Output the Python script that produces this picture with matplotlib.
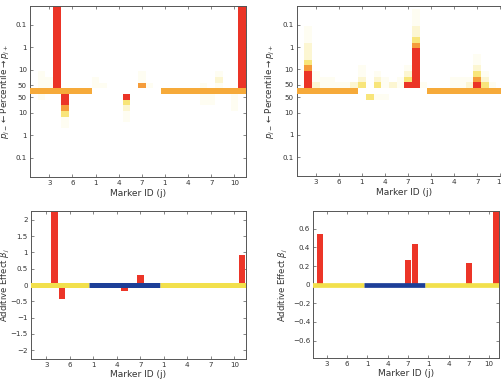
import matplotlib
matplotlib.use("Agg")
import matplotlib.pyplot as plt
import numpy as np

# ---------------- data ----------------
n_markers = 28
group_sizes = [8, 9, 11]
xtick_pos = [3, 6, 9, 12, 15, 18, 21, 24, 27]
xtick_labels = ['3', '6', '1', '4', '7', '1', '4', '7', '10']

# percentile heat-map columns: intensity levels per bin, going outward from centre
# (0 none, 1 very faint, 2 pale, 3 yellow, 4 orange, 5 red)
tl_upper = {2: [1, 1, 1], 3: [1, 1], 4: [5] * 15, 9: [1, 1], 10: [1],
            15: [4, 1, 1], 16: [1], 23: [1], 25: [1, 2, 1], 28: [5] * 15}
tl_lower = {2: [1], 5: [5, 5, 4, 3, 1, 1], 13: [5, 3, 2, 1, 1],
            23: [1, 1], 24: [1, 1], 27: [1, 1, 1]}
tr_upper = {2: [5, 5, 5, 4, 3, 2, 2, 2, 1, 1, 1], 3: [2, 1, 1], 4: [1, 1], 5: [1, 1],
            6: [1], 7: [1], 8: [2], 9: [3, 2, 1, 1], 11: [3, 2, 1], 12: [1, 1],
            13: [2], 14: [1, 1], 15: [5, 3, 2, 1],
            16: [5, 5, 5, 5, 5, 5, 5, 4, 3, 2, 2, 1, 1, 1], 17: [1],
            21: [1, 1], 22: [1, 1], 23: [2, 1], 24: [5, 4, 3, 2, 1, 1], 25: [3, 2, 1], 26: [1]}
tr_lower = {10: [3], 11: [1], 12: [1]}

# additive effects
bl_markers = [4, 5, 13, 15, 28]
bl_effects = [2.5, -0.44, -0.19, 0.31, 0.92]
br_markers = [2, 15, 16, 24, 28]
br_effects = [0.54, 0.26, 0.44, 0.23, 0.85]

pct_ticks = [0.1, 1, 10, 50]

# ---------------- style ----------------
level_colors = {1: '#fefdf2', 2: '#fcf6d2', 3: '#f8e57a', 4: '#f59c3a', 5: '#eb3426'}
red = '#ec3528'
band_orange = '#f6aa3a'
band_yellow = '#f2e04c'
band_blue = '#1d3f98'
spine_c = '#555555'
txt_c = '#333333'

W, H = 502, 379
fig = plt.figure(figsize=(W / 100, H / 100), dpi=100)

def ax_px(l, t, r, b):
    return fig.add_axes([l / W, 1 - b / H, (r - l) / W, (b - t) / H])

ax_tl = ax_px(30, 5.7, 246, 176.7)
ax_tr = ax_px(296.7, 5.7, 511.8, 176.3)
ax_bl = ax_px(30.7, 210.7, 246, 359.3)
ax_br = ax_px(313.3, 211, 499.3, 358.3)

BIN = 0.254
OFF = 0.27
YL = 3.82

def style(ax, xlabelpad):
    for s in ax.spines.values():
        s.set_color(spine_c)
        s.set_linewidth(0.7)
    ax.tick_params(direction='in', top=True, right=True, length=2.5, width=0.5,
                   colors=spine_c, labelcolor=txt_c, labelsize=5.1, pad=2.2)
    ax.set_xticks(xtick_pos)
    ax.set_xticklabels(xtick_labels)
    ax.set_xlabel('Marker ID (j)', fontsize=6.5, color=txt_c, labelpad=xlabelpad)

bounds = np.cumsum([0] + group_sizes) + 0.5

def top_panel(ax, upper, lower, band_groups, label_x):
    for m, levels in upper.items():
        for k, lev in enumerate(levels):
            ax.bar(m, BIN, bottom=BIN / 2 + k * BIN, width=1.0,
                   color=level_colors[lev], linewidth=0, zorder=2 + lev * 0.1)
    for m, levels in lower.items():
        for k, lev in enumerate(levels):
            ax.bar(m, BIN, bottom=-BIN / 2 - (k + 1) * BIN, width=1.0,
                   color=level_colors[lev], linewidth=0, zorder=2 + lev * 0.1)
    for g in band_groups:
        a, b = bounds[g], bounds[g + 1]
        ax.bar((a + b) / 2, BIN, bottom=-BIN / 2, width=b - a,
               color=band_orange, linewidth=0, zorder=3)
    ax.set_xlim(0.5, n_markers + 0.5)
    ax.set_ylim(-YL, YL)
    ypos = [OFF + np.log10(50 / p) for p in pct_ticks]
    yt = ypos + [-v for v in ypos]
    yl = [('%g' % p) for p in pct_ticks] * 2
    ax.set_yticks(yt)
    ax.set_yticklabels(yl)
    style(ax, 2)
    ax.set_ylabel(r'$p_{j-}$$\leftarrow$Percentile$\rightarrow$$p_{j+}$',
                  fontsize=6.3, color=txt_c)
    ax.yaxis.set_label_coords(label_x, 0.5)

top_panel(ax_tl, tl_upper, tl_lower, [0, 2], -0.083)
top_panel(ax_tr, tr_upper, tr_lower, [0, 2], -0.092)

def bottom_panel(ax, markers, effects, ylim, yticks, band_lw, label_x):
    ax.bar(markers, effects, width=0.85, color=red, linewidth=0, zorder=2)
    cols = [band_yellow, band_blue, band_yellow]
    for g in range(3):
        ax.hlines(0, bounds[g], bounds[g + 1], colors=cols[g], linewidth=band_lw, zorder=3)
    ax.set_xlim(1.0, n_markers + 0.5)
    ax.set_ylim(-ylim, ylim)
    ax.set_yticks(yticks)
    ax.set_yticklabels([('%g' % v).replace('-', '\u2212') for v in yticks])
    style(ax, 1)
    ax.set_ylabel(r'Additive Effect $\beta_j$', fontsize=6.1, color=txt_c)
    ax.yaxis.set_label_coords(label_x, 0.5)

bottom_panel(ax_bl, bl_markers, bl_effects, 2.28,
             [-2, -1.5, -1, -0.5, 0, 0.5, 1, 1.5, 2], 3.6, -0.087)
bottom_panel(ax_br, br_markers, br_effects, 0.79,
             [-0.6, -0.4, -0.2, 0, 0.2, 0.4, 0.6], 3.4, -0.123)

fig.savefig('out.png', dpi=100)
